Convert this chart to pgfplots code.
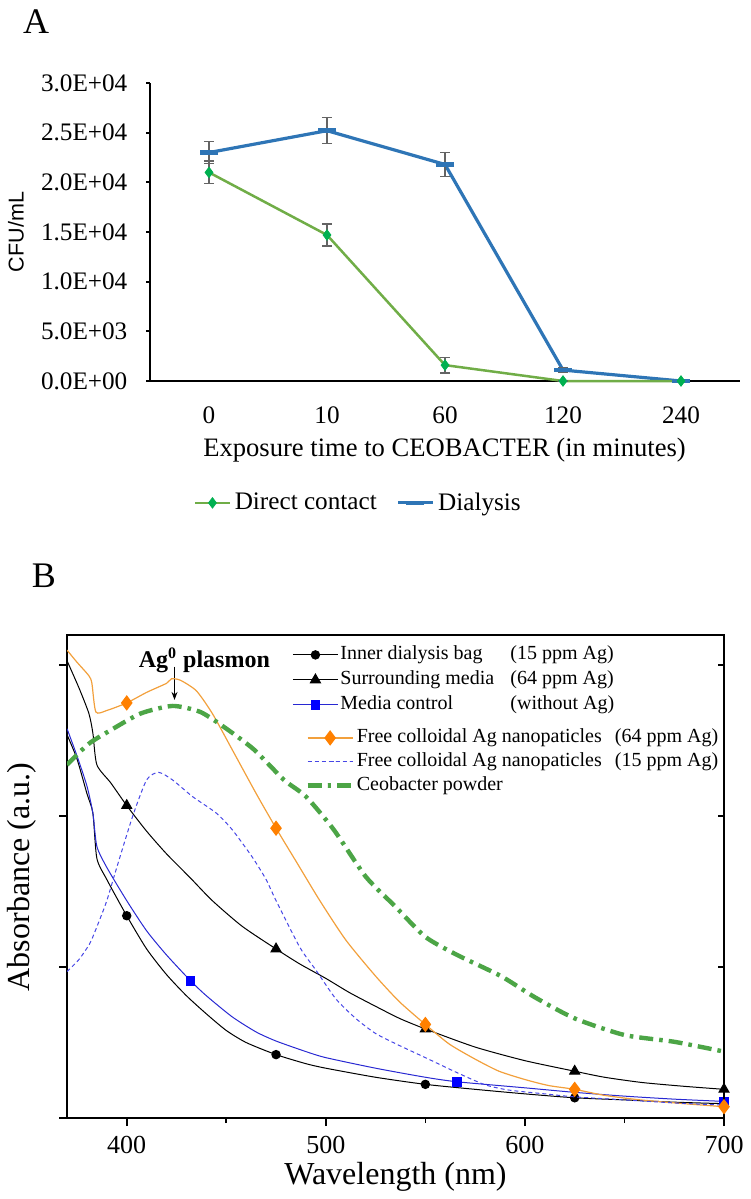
\documentclass[border=0pt]{standalone}
\usepackage{fontspec}
\setmainfont{Liberation Serif}
\newfontfamily\arialfont{Liberation Sans}
\usepackage{pgfplots}
\pgfplotsset{compat=1.18}
\usepackage{pgfplotstable}
\usetikzlibrary{arrows.meta}

\definecolor{DBlue}{RGB}{46,117,182}
\definecolor{DGreen}{RGB}{112,173,71}
\definecolor{DMark}{RGB}{0,176,80}
\definecolor{EBar}{RGB}{100,100,100}
\definecolor{MBlue}{RGB}{40,40,210}
\definecolor{SqBlue}{RGB}{0,0,255}
\definecolor{OLine}{RGB}{242,160,60}
\definecolor{ODia}{RGB}{255,128,0}
\definecolor{DashBlue}{RGB}{70,70,230}
\definecolor{CGreen}{RGB}{76,165,70}

% panel A: CFU/mL, x = category index
\pgfplotstableread{
x y e
0 21000 1150
1 14700 1100
2 1600 800
3 0 0
4 0 0
}\direct
\pgfplotstableread{
x y e
0 23000 1100
1 25200 1300
2 21800 1200
3 1100 200
4 0 0
}\dialysis

% panel B: absorbance (a.u.)
\pgfplotstableread{
wl a
370 2.54
375 2.38
380 2.15
383 2.02
385 1.72
390 1.58
400 1.34
410 1.12
420 0.95
430 0.81
440 0.69
450 0.58
460 0.50
475 0.42
490 0.36
500 0.33
525 0.27
550 0.223
575 0.19
600 0.16
625 0.134
650 0.12
675 0.105
700 0.095
}\inner
\pgfplotstableread{
wl a
370 3.03
376 2.85
381 2.68
383 2.55
385 2.34
392 2.22
400 2.07
410 1.90
420 1.75
432 1.59
443 1.44
458 1.27
475 1.12
487 1.02
500 0.925
512 0.83
525 0.74
537 0.66
550 0.59
575 0.47
600 0.38
625 0.31
640 0.27
659 0.235
680 0.21
700 0.19
}\surround
\pgfplotstableread{
wl a
370 2.58
375 2.40
380 2.20
383 2.02
385 1.80
390 1.66
400 1.44
410 1.24
420 1.08
432 0.91
440 0.81
453 0.67
465 0.57
475 0.51
490 0.44
500 0.40
525 0.33
550 0.27
566 0.24
600 0.20
625 0.17
650 0.145
675 0.125
700 0.11
}\mediactl
\pgfplotstableread{
wl a
370 3.10
375 3.02
381 2.93
382.5 2.88
384.5 2.69
390 2.70
400 2.75
410 2.82
420 2.88
422.5 2.91
427 2.90
435 2.83
443 2.68
453 2.44
465 2.15
475 1.92
486 1.68
497 1.44
510 1.18
525 0.94
537 0.77
550 0.62
562 0.49
575 0.39
587 0.31
600 0.255
612 0.215
625 0.19
640 0.15
658 0.12
680 0.095
700 0.075
}\agsixtyfour
\pgfplotstableread{
wl a
370 0.97
376 1.05
381.6 1.16
386 1.30
390 1.44
395 1.66
403 2.00
410 2.24
416 2.29
423 2.24
433 2.13
445 2.02
453 1.91
463 1.73
470 1.58
475 1.44
487 1.13
495 0.98
505 0.79
515 0.66
525 0.56
537 0.48
550 0.40
566 0.30
580 0.22
592 0.185
610 0.16
625 0.14
650 0.12
675 0.10
700 0.085
}\agfifteen
\pgfplotstableread{
wl a
370 2.34
376 2.42
382 2.49
392 2.57
407 2.68
423 2.73
437 2.69
450 2.58
464 2.44
479 2.24
490 2.13
504 1.91
520 1.60
535 1.40
550 1.20
566 1.08
588 0.94
605 0.80
625 0.66
650 0.55
675 0.505
700 0.44
}\ceob

\pgfplotsset{
  bleg/.style={
    legend image code/.code={\draw[##1, mark indices={2}] plot coordinates {(0pt,0pt) (11.25pt,0pt) (22.5pt,0pt)};},
  },
}

\begin{document}
\begin{tikzpicture}
\useasboundingbox (0,0) rectangle (375pt,-599.5pt);

% ---------- A ----------
\node[font=\fontsize{18}{20}\selectfont] at (18pt,-11pt) {A};
\begin{axis}[
  at={(75pt,-190.5pt)}, anchor=south west,
  scale only axis, width=295pt, height=149pt,
  xmin=-0.5, xmax=4.5, ymin=0, ymax=30000,
  axis lines=left, axis line style={-, line width=1.1pt},
  xtick={0,...,4}, xticklabels={0,10,60,120,240}, xtick style={draw=none},
  ytick={0,5000,...,30000},
  yticklabels={0.0E+00,5.0E+03,1.0E+04,1.5E+04,2.0E+04,2.5E+04,3.0E+04},
  scaled y ticks=false,
  tick align=outside, major tick length=2pt,
  ytick style={line width=1.1pt, black},
  ticklabel style={font=\fontsize{12.6}{15}\selectfont},
  yticklabel style={xshift=-5.8pt},
  xticklabel style={yshift=-7.5pt},
  clip=false,
  legend style={at={(axis description cs:0.355,-0.409)}, anchor=center,
    draw=none, legend columns=2, font=\fontsize{12.6}{15}\selectfont,
    /tikz/every even column/.append style={column sep=8pt}},
  reverse legend,
]
\addplot[color=DBlue, line width=1.6pt, mark=-, mark size=4.5pt,
  mark options={line width=2.2pt},
  error bars/.cd, y dir=both, y explicit,
  error bar style={line width=0.6pt, EBar},
  error mark options={rotate=90, mark size=2.5pt, line width=0.6pt, EBar}]
  table[x=x, y=y, y error=e] {\dialysis};
\addlegendentry{Dialysis}
\addplot[color=DGreen, line width=1.25pt, mark=diamond*, mark size=2.6pt,
  mark options={DMark, fill=DMark, line width=0.4pt},
  error bars/.cd, y dir=both, y explicit,
  error bar style={line width=0.6pt, EBar},
  error mark options={rotate=90, mark size=2.5pt, line width=0.6pt, EBar}]
  table[x=x, y=y, y error=e] {\direct};
\addlegendentry{Direct contact}
\end{axis}
\node[rotate=90, font=\arialfont\fontsize{10.75}{12}\selectfont] at (8pt,-116pt) {CFU/mL};
\node[font=\fontsize{13.3}{15}\selectfont] at (222.25pt,-225pt) {Exposure time to CEOBACTER (in minutes)};

% ---------- B ----------
\node[font=\fontsize{18}{20}\selectfont] at (22pt,-288pt) {B};
\begin{axis}[
  at={(33.5pt,-559pt)}, anchor=south west,
  scale only axis, width=328.5pt, height=241.5pt,
  xmin=370, xmax=700, ymin=0, ymax=3.2,
  axis line style={line width=0.8pt},
  xtick={400,500,600,700}, xticklabels={400,500,600,700},
  minor xtick={450,550,650},
  ytick={0,1,2,3}, yticklabels={},
  xtick pos=bottom, ytick pos=left, tick align=outside,
  major tick length=4pt, minor tick length=2.5pt,
  tick style={line width=0.8pt, black},
  xticklabel style={font=\fontsize{13}{15}\selectfont, yshift=-1.5pt},
  bleg,
  legend style={at={(axis description cs:0.3425,0.9824)}, anchor=north west,
    draw=none, fill=none, inner sep=0pt, font=\fontsize{10}{12}\selectfont,
    nodes={inner sep=1pt, text height=7pt, text depth=2pt},
    row sep=1.5pt, cells={anchor=west}},
  every axis plot/.append style={smooth, tension=0.4},
]
\addplot[black, line width=0.5pt, mark=*, mark size=2.1pt, mark indices={7,14,18,21,24}]
  table[x=wl, y=a] {\inner};
\addlegendentry{\makebox[85pt][l]{Inner dialysis bag}(15 ppm Ag)}
\addplot[black, line width=0.5pt, mark=triangle*, mark size=2.9pt, mark indices={7,13,19,22,26}]
  table[x=wl, y=a] {\surround};
\addlegendentry{\makebox[85pt][l]{Surrounding media}(64 ppm Ag)}
\addplot[MBlue, line width=0.5pt, mark=square*, mark size=2.2pt,
  mark options={SqBlue, fill=SqBlue}, mark indices={10,19,24}]
  table[x=wl, y=a] {\mediactl};
\addlegendentry{\makebox[85pt][l]{Media control}(without Ag)}
\node[font=\bfseries\fontsize{12}{14}\selectfont] at (axis cs:439,3.03) {Ag\textsuperscript{0} plasmon};
\draw[-{Stealth[length=4pt,width=3pt]}, line width=0.5pt] (axis cs:424,2.99) -- (axis cs:424,2.77);
\end{axis}

\begin{axis}[
  at={(33.5pt,-559pt)}, anchor=south west,
  scale only axis, width=328.5pt, height=241.5pt,
  xmin=370, xmax=700, ymin=0, ymax=3.2,
  axis x line=none, axis y line*=right,
  axis line style={-, line width=0.8pt},
  ytick={1,2,3}, yticklabels={},
  tick align=inside, major tick length=3pt,
  tick style={line width=0.8pt, black},
  bleg,
  legend style={at={(axis description cs:0.3623,0.8105)}, anchor=north west,
    draw=none, fill=none, inner sep=0pt, font=\fontsize{10}{12}\selectfont,
    nodes={inner sep=1pt, text height=7pt, text depth=2pt},
    row sep=0.9pt, cells={anchor=west}},
  every axis plot/.append style={smooth, tension=0.4},
]
\addplot[OLine, line width=0.6pt, mark=diamond*, mark size=3.4pt,
  mark options={ODia, fill=ODia}, mark indices={7,16,22,28,32}]
  table[x=wl, y=a] {\agsixtyfour};
\addlegendentry{\makebox[129pt][l]{Free colloidal Ag nanopaticles}(64 ppm Ag)}
\addplot[DashBlue, line width=0.5pt, dash pattern=on 2pt off 1.5pt]
  table[x=wl, y=a] {\agfifteen};
\addlegendentry{\makebox[129pt][l]{Free colloidal Ag nanopaticles}(15 ppm Ag)}
\addplot[CGreen, line width=2.2pt, dash pattern=on 7pt off 3pt on 1.8pt off 3pt]
  table[x=wl, y=a] {\ceob};
\addlegendentry{Ceobacter powder}
\end{axis}
\node[rotate=90, font=\fontsize{16}{18}\selectfont] at (11pt,-438.5pt) {Absorbance (a.u.)};
\node[font=\fontsize{16}{18}\selectfont] at (197.75pt,-588.5pt) {Wavelength (nm)};
\end{tikzpicture}
\end{document}
